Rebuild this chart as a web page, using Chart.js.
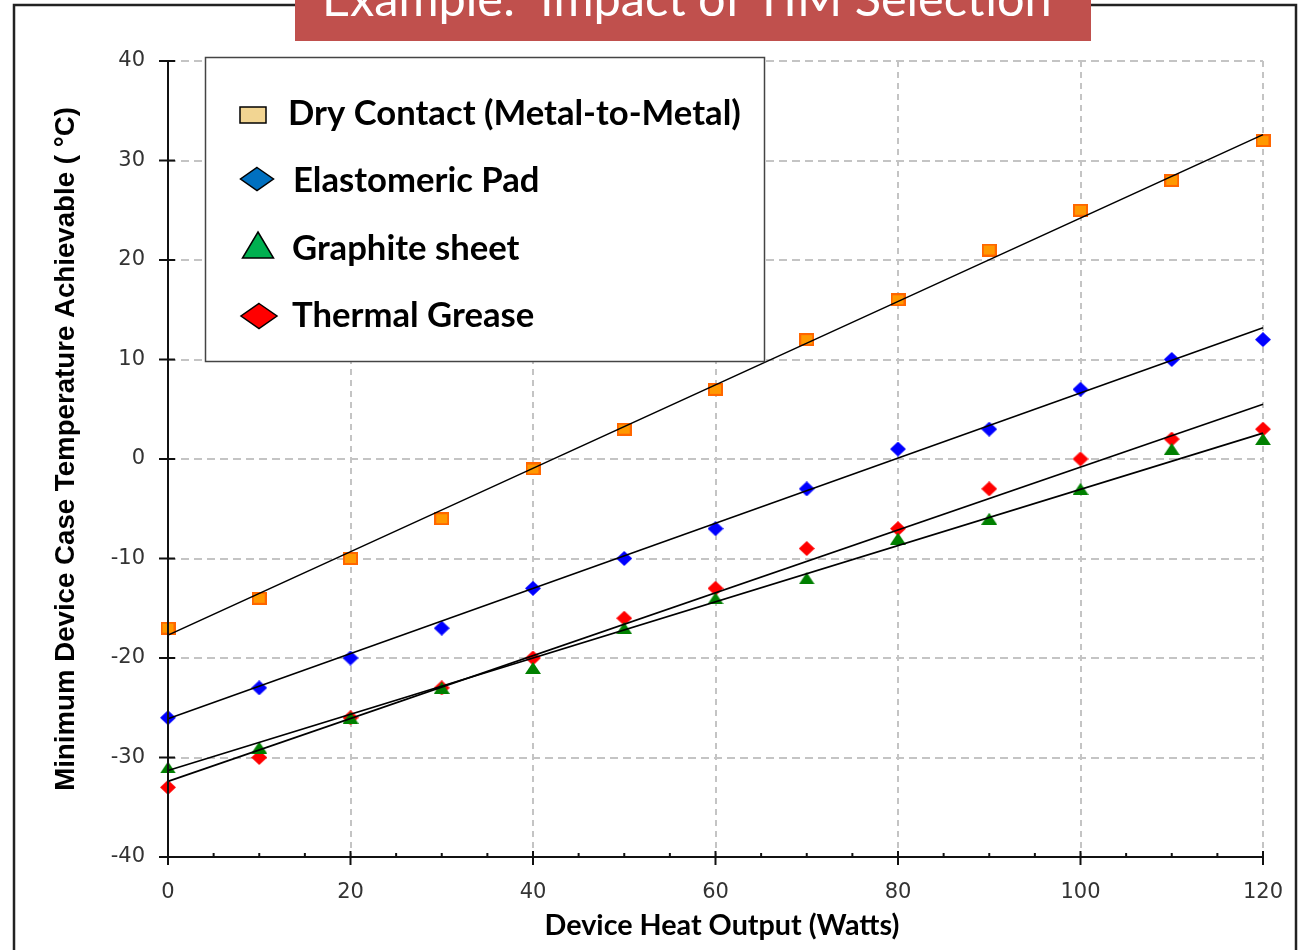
<!DOCTYPE html>
<html>
<head>
<meta charset="utf-8">
<title>Example: Impact of TIM Selection</title>
<script src="https://cdn.jsdelivr.net/npm/chart.js@4.4.1/dist/chart.umd.min.js"></script>
<style>
  html, body { margin: 0; padding: 0; background: #fff; overflow: hidden; }
  #wrap { position: relative; width: 1299px; height: 950px; }
</style>
</head>
<body>
<div id="wrap"><canvas id="timChart" width="1299" height="950"></canvas></div>
<script>
// values
const heatOutput = [0, 10, 20, 30, 40, 50, 60, 70, 80, 90, 100, 110, 120];
const dryContact = [-17, -14, -10, -6, -1, 3, 7, 12, 16, 21, 25, 28, 32];
const elastomericPad = [-26, -23, -20, -17, -13, -10, -7, -3, 1, 3, 7, 10, 12];
const graphiteSheet = [-31, -29, -26, -23, -21, -17, -14, -12, -8, -6, -3, 1, 2];
const thermalGrease = [-33, -30, -26, -23, -20, -16, -13, -9, -7, -3, 0, 2, 3];

// trend line ends at 0 W and 120 W
const trendWatts = [0, 120];
const dryTrend = [-17.7, 32.6];
const elastomericTrend = [-26.1, 13.2];
const graphiteTrend = [-31.3, 2.6];
const greaseTrend = [-32.4, 5.5];

const seriesLabels = ["Dry Contact (Metal-to-Metal)", "Elastomeric Pad", "Graphite sheet", "Thermal Grease"];
const xTicks = [0, 20, 40, 60, 80, 100, 120];
const yTicks = [-40, -30, -20, -10, 0, 10, 20, 30, 40];

const chartTitle = "Example:  Impact of TIM Selection";
const xTitle = "Device Heat Output (Watts)";
const yTitle = "Minimum Device Case Temperature Achievable ( °C)";

function pairUp(xs, ys) {
  return xs.map((x, i) => ({ x: x, y: ys[i] }));
}

function makeMarker(w, h, draw) {
  const c = document.createElement("canvas");
  c.width = w;
  c.height = h;
  draw(c.getContext("2d"), w, h);
  return c;
}

function diamondPath(ctx, cx, cy, w, h) {
  ctx.beginPath();
  ctx.moveTo(cx, cy - h / 2);
  ctx.lineTo(cx + w / 2, cy);
  ctx.lineTo(cx, cy + h / 2);
  ctx.lineTo(cx - w / 2, cy);
  ctx.closePath();
}

function trianglePath(ctx, cx, cy, w, h) {
  ctx.beginPath();
  ctx.moveTo(cx, cy - h / 2);
  ctx.lineTo(cx + w / 2, cy + h / 2);
  ctx.lineTo(cx - w / 2, cy + h / 2);
  ctx.closePath();
}

const squareMark = makeMarker(15, 13, (ctx, w, h) => {
  ctx.fillStyle = "#FF6600";
  ctx.fillRect(0, 0, w, h);
  ctx.fillStyle = "#FF9900";
  ctx.fillRect(2, 2, w - 4, h - 4);
});
const blueMark = makeMarker(16, 15, (ctx, w, h) => {
  diamondPath(ctx, w / 2, h / 2, w, h);
  ctx.fillStyle = "#0000FF";
  ctx.fill();
});
const greenMark = makeMarker(16, 12, (ctx, w, h) => {
  trianglePath(ctx, w / 2, h / 2, w, h);
  ctx.fillStyle = "#008000";
  ctx.fill();
});
const redMark = makeMarker(16, 15, (ctx, w, h) => {
  diamondPath(ctx, w / 2, h / 2, w, h);
  ctx.fillStyle = "#FF0000";
  ctx.fill();
});

function trendSet(ys) {
  return {
    data: pairUp(trendWatts, ys),
    showLine: true,
    borderColor: "#000",
    borderWidth: 1.6,
    pointRadius: 0,
    clip: false,
    order: 0,
  };
}

function pointSet(label, ys, mark) {
  return {
    label: label,
    data: pairUp(heatOutput, ys),
    pointStyle: mark,
    pointRadius: 8,
    showLine: false,
    clip: false,
    order: 1,
  };
}

// legend look (differs from the plot markers)
const legendMarks = [
  (ctx, cx, cy) => {
    ctx.fillStyle = "#F2D592";
    ctx.fillRect(cx - 13, cy - 8, 26, 16);
    ctx.strokeRect(cx - 13, cy - 8, 26, 16);
  },
  (ctx, cx, cy) => {
    diamondPath(ctx, cx, cy, 33, 23);
    ctx.fillStyle = "#0070C0";
    ctx.fill();
    ctx.stroke();
  },
  (ctx, cx, cy) => {
    trianglePath(ctx, cx, cy, 31, 26);
    ctx.fillStyle = "#00B050";
    ctx.fill();
    ctx.stroke();
  },
  (ctx, cx, cy) => {
    diamondPath(ctx, cx, cy, 36, 25);
    ctx.fillStyle = "#FF0000";
    ctx.fill();
    ctx.stroke();
  },
];

function fitFont(ctx, weight, family, text, targetWidth) {
  ctx.font = weight + " 40px " + family;
  const w = ctx.measureText(text).width;
  return (40 * targetWidth) / w;
}

function line(ctx, x1, y1, x2, y2) {
  ctx.beginPath();
  ctx.moveTo(x1, y1);
  ctx.lineTo(x2, y2);
  ctx.stroke();
}

const decorPlugin = {
  id: "timDecor",
  afterDraw(chart) {
    const ctx = chart.ctx;
    const xs = chart.scales.x;
    const ys = chart.scales.y;
    const area = chart.chartArea;
    const x0 = xs.getPixelForValue(0);
    const xEnd = xs.getPixelForValue(120);
    const yBot = ys.getPixelForValue(-40);
    const yTop = ys.getPixelForValue(40);

    ctx.save();
    // axes
    ctx.strokeStyle = "#111";
    ctx.lineWidth = 2;
    line(ctx, x0, yTop, x0, yBot + 1);
    line(ctx, x0 - 8, yBot, xEnd + 1, yBot);
    yTicks.forEach((v) => {
      const y = ys.getPixelForValue(v);
      line(ctx, x0 - 9, y, x0 + 7, y);
    });
    for (let v = 0; v <= 120; v += 5) {
      const x = xs.getPixelForValue(v);
      if (v % 20 === 0) line(ctx, x, yBot - 6, x, yBot + 8);
      else line(ctx, x, yBot - 4, x, yBot);
    }

    // axis titles
    ctx.fillStyle = "#000";
    ctx.textAlign = "center";
    ctx.textBaseline = "alphabetic";
    let size = fitFont(ctx, "bold", "Lato", xTitle, 355);
    ctx.font = "bold " + size + "px Lato";
    ctx.fillText(xTitle, 722, 935);

    size = fitFont(ctx, "bold", "'Liberation Sans'", yTitle, 684);
    ctx.font = "bold " + size + "px 'Liberation Sans'";
    ctx.save();
    ctx.translate(74, 449);
    ctx.rotate(-Math.PI / 2);
    ctx.fillText(yTitle, 0, 0);
    ctx.restore();

    // legend box inside the plot
    const lx = area.left + 37;
    const ly = area.top - 4;
    ctx.fillStyle = "#fff";
    ctx.fillRect(lx, ly, 559, 304);
    ctx.strokeStyle = "#444";
    ctx.lineWidth = 1.5;
    ctx.strokeRect(lx + 0.5, ly + 0.5, 559, 304);

    size = fitFont(ctx, "bold", "Lato", seriesLabels[0], 453);
    ctx.font = "bold " + size + "px Lato";
    ctx.textAlign = "left";
    const markX = [253, 257, 258, 259];
    const markY = [115, 179, 245, 316];
    const textX = [288, 293, 292, 292];
    const baseY = [125, 192, 260, 327];
    seriesLabels.forEach((label, i) => {
      ctx.strokeStyle = "#000";
      ctx.lineWidth = 1.5;
      legendMarks[i](ctx, markX[i], markY[i]);
      ctx.fillStyle = "#000";
      ctx.fillText(label, textX[i], baseY[i]);
    });

    // outer frame and title banner
    ctx.strokeStyle = "#222";
    ctx.lineWidth = 2.5;
    ctx.strokeRect(14, 5, 1282, 980);
    ctx.fillStyle = "#C0504D";
    ctx.fillRect(295, 0, 796, 41);
    size = fitFont(ctx, "normal", "Lato", chartTitle, 730);
    ctx.font = size + "px Lato";
    ctx.fillStyle = "#fff";
    ctx.fillText(chartTitle, 322, 16);
    ctx.restore();
  },
};

const tickFont = { family: "'DejaVu Sans'", size: 21 };

const timChart = new Chart(document.getElementById("timChart"), {
  type: "scatter",
  data: {
    datasets: [
      trendSet(dryTrend),
      trendSet(elastomericTrend),
      trendSet(graphiteTrend),
      trendSet(greaseTrend),
      pointSet(seriesLabels[0], dryContact, squareMark),
      pointSet(seriesLabels[1], elastomericPad, blueMark),
      pointSet(seriesLabels[2], graphiteSheet, greenMark),
      pointSet(seriesLabels[3], thermalGrease, redMark),
    ],
  },
  options: {
    responsive: false,
    animation: false,
    events: [],
    layout: { padding: { top: 61, right: 36, left: 0, bottom: 0 } },
    plugins: { legend: { display: false }, tooltip: { enabled: false } },
    scales: {
      x: {
        type: "linear",
        min: 0,
        max: 120,
        afterBuildTicks: (s) => { s.ticks = xTicks.map((v) => ({ value: v })); },
        afterFit: (s) => {
          s.height = 93;
          s.paddingLeft = 0;
          s.paddingRight = 0;
        },
        ticks: { color: "#333", font: tickFont, padding: 23, maxRotation: 0 },
        grid: {
          color: (c) => (c.tick && c.tick.value === 0 ? "rgba(0,0,0,0)" : "#c4c4c4"),
          lineWidth: 2,
          drawTicks: false,
        },
        border: { display: false, dash: [6, 5] },
      },
      y: {
        type: "linear",
        min: -40,
        max: 40,
        afterBuildTicks: (s) => { s.ticks = yTicks.map((v) => ({ value: v })); },
        afterFit: (s) => {
          s.width = 168;
          s.paddingTop = 0;
          s.paddingBottom = 0;
        },
        ticks: { color: "#333", font: tickFont, padding: 23 },
        grid: {
          color: (c) => (c.tick && c.tick.value === -40 ? "rgba(0,0,0,0)" : "#c4c4c4"),
          lineWidth: 2,
          drawTicks: false,
        },
        border: { display: false, dash: [8, 5] },
      },
    },
  },
  plugins: [decorPlugin],
});
</script>
</body>
</html>
